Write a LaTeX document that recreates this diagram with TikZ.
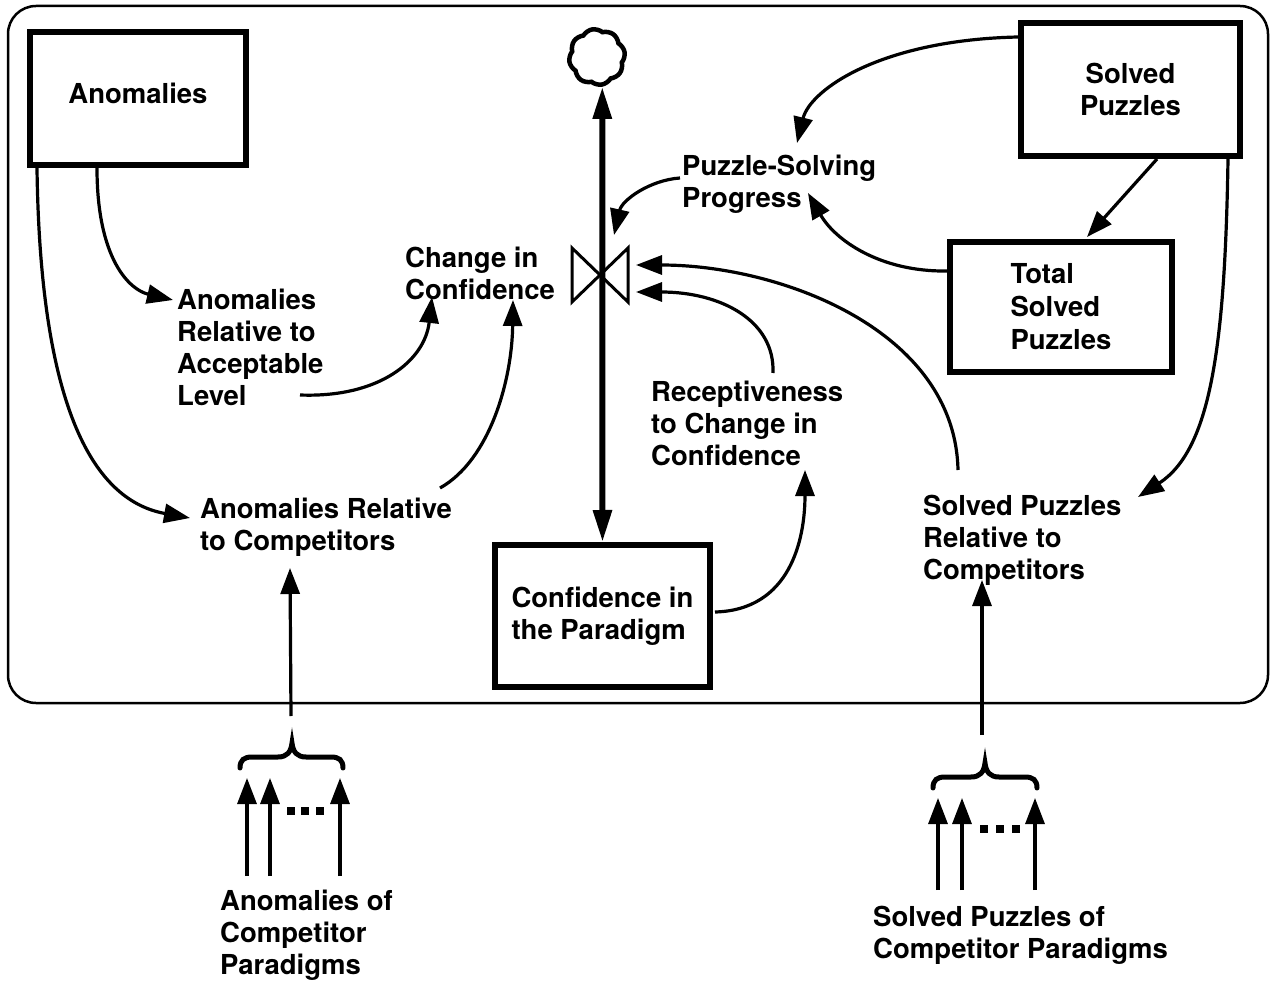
\documentclass[tikz,border=0pt]{standalone}
\usepackage{fontspec}
\setmainfont{TeX Gyre Heros}
\usetikzlibrary{arrows.meta,shapes.symbols,calc}
\begin{document}
\begin{tikzpicture}[x=1pt,y=-1pt,
  txt/.style={font=\fontsize{27.5}{32}\selectfont\bfseries, inner sep=0pt},
  lbl/.style={txt, align=left, anchor=north west},
  stock/.style={draw, line width=6pt, inner sep=0pt, txt},
  conn/.style={line width=3.2pt, -{Triangle[length=26pt,width=19pt]}},
  flowline/.style={line width=6pt, {Triangle[length=32pt,width=18pt]}-{Triangle[length=32pt,width=18pt]}},
  brace/.style={line width=5pt, line cap=round},
  dotsq/.style={fill=black, minimum size=8.5pt, inner sep=0pt}]
\useasboundingbox (0,0) rectangle (1270,984);
% outer boundary
\draw[line width=2.5pt, rounded corners=28pt] (8,6) rectangle (1268,703);

% stocks
\node[stock, minimum width=216pt, minimum height=133pt, text height=20pt, text depth=9pt] (anom) at (138,98.5) {Anomalies};
\node[stock, minimum width=219pt, minimum height=133pt, align=center] (sp) at (1130.5,89.5) {Solved\\Puzzles};
\node[stock, minimum width=222pt, minimum height=130pt, align=left, font=\fontsize{27.5}{33}\selectfont\bfseries] (tsp) at (1061,307) {Total\\Solved\\Puzzles};
\node[stock, minimum width=215pt, minimum height=142pt, align=left] (conf) at (602.5,616) {Confidence in\\the Paradigm};

% cloud and valve
\node[cloud, cloud puffs=8, cloud puff arc=100, draw, line width=4.5pt, minimum width=56pt, minimum height=56pt, inner sep=0pt, aspect=1, rotate=10] (cloud) at (597,57) {};
\coordinate (valve) at (600,275);
\draw[flowline] (cloud.south) -- (conf.north);
\draw[line width=3pt, line join=miter] ($(valve)+(-28,-27)$) -- ($(valve)+(28,27)$) -- ($(valve)+(28,-27)$) -- ($(valve)+(-28,27)$) -- cycle;

% labels
\node[lbl] (chg) at (405,247) {Change in\\Confidence};
\node[lbl] (arl) at (177,289) {Anomalies\\Relative to\\Acceptable\\Level};
\node[lbl] (arc) at (200,498) {Anomalies Relative\\to Competitors};
\node[lbl] (psp) at (682,155) {Puzzle-Solving\\Progress};
\node[lbl] (rec) at (651,381) {Receptiveness\\to Change in\\Confidence};
\node[lbl] (spr) at (923,495) {Solved Puzzles\\Relative to\\Competitors};
\node[lbl] (aoc) at (220,890) {Anomalies of\\Competitor\\Paradigms};
\node[lbl] (soc) at (873,906) {Solved Puzzles of\\Competitor Paradigms};

% connectors
\draw[conn] ($(sp.north west)+(0,17)$) .. controls (880,40) and (810,90) .. ($(psp.north west)+(115,-12)$);
\draw[conn] ($(sp.south)+(26.5,0)$) -- ($(tsp.north)+(26,-2)$);
\draw[conn] ($(tsp.west)+(0,-36)$) .. controls (880,272) and (835,240) .. ($(psp.north west)+(126,38)$);
\draw[conn] ($(psp.north west)+(-2,23)$) .. controls (650,180) and (622,200) .. ($(valve)+(14,-40)$);
\draw[conn] ($(sp.south east)+(-15,0)$) .. controls (1225,350) and (1210,450) .. ($(spr.north west)+(215,2)$);
\draw[conn] ($(spr.north west)+(35,-25)$) .. controls (955,330) and (780,265) .. ($(valve)+(36,-10)$);
\draw[conn] ($(rec.north west)+(122,-8)$) .. controls (775,320) and (720,292) .. ($(valve)+(36,17)$);
\draw[conn] ($(conf.east)+(2,-4)$) .. controls (790,610) and (805,540) .. ($(rec.north west)+(154,89)$);
\draw[conn] ($(anom.south)+(-41,0)$) .. controls (97,260) and (130,290) .. ($(arl.north west)+(-4,11)$);
\draw[conn] ($(anom.south west)+(10,0)$) .. controls (40,400) and (90,500) .. ($(arc.north west)+(-10,20)$);
\draw[conn] ($(arl.north west)+(123,106)$) .. controls (380,398) and (425,360) .. ($(chg.north west)+(27,50)$);
\draw[conn] ($(arc.north west)+(240,-10)$) .. controls (490,460) and (512,380) .. ($(chg.north west)+(108,53)$);

% left competitor inputs
\coordinate (lbr) at (291,716);
\draw[brace] (240,768) .. controls (240,760) and (244,757) .. (252,757) -- (278,757) .. controls (287,757) and (291,752) .. (292,743) .. controls (293,752) and (297,757) .. (306,757) -- (331,757) .. controls (339,757) and (343,760) .. (343,768);
\draw[conn] (lbr) -- ($(arc.north west)+(90,70)$);
\draw[conn] ($(aoc.north west)+(27,-14)$) -- (247,778);
\draw[conn] ($(aoc.north west)+(50,-14)$) -- (270,778);
\draw[conn] ($(aoc.north west)+(120,-14)$) -- (340,778);
\node[dotsq] (ld1) at (291,811) {};
\node[dotsq] (ld2) at (305,811) {};
\node[dotsq] (ld3) at (320,811) {};

% right competitor inputs
\coordinate (rbr) at (982,735);
\draw[brace] (933,788) .. controls (933,780) and (937,777) .. (945,777) -- (971,777) .. controls (980,777) and (984,772) .. (985,763) .. controls (986,772) and (990,777) .. (999,777) -- (1025,777) .. controls (1033,777) and (1037,780) .. (1037,788);
\draw[conn] (rbr) -- ($(spr.north west)+(59,85)$);
\draw[conn] ($(soc.north west)+(65,-16)$) -- (938,798);
\draw[conn] ($(soc.north west)+(89,-16)$) -- (962,798);
\draw[conn] ($(soc.north west)+(162,-16)$) -- (1035,798);
\node[dotsq] (rd1) at (984,829) {};
\node[dotsq] (rd2) at (1000,829) {};
\node[dotsq] (rd3) at (1016,829) {};
\end{tikzpicture}
\end{document}
